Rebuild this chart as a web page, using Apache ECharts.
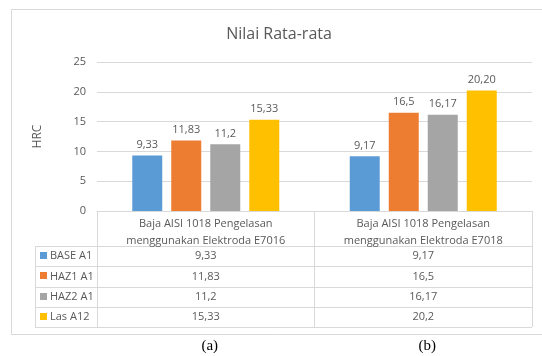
<!DOCTYPE html>
<html>
<head>
<meta charset="utf-8">
<script src="https://cdn.jsdelivr.net/npm/echarts@6/dist/echarts.min.js"></script>
<style>
  html, body { margin: 0; padding: 0; background: #ffffff; }
  #chart { width: 542px; height: 356px; }
</style>
</head>
<body>
<div id="chart"></div>
<script>
// Average hardness (HRC) per zone, for two electrodes
const categories = [
  'Baja AISI 1018 Pengelasan\nmenggunakan Elektroda E7016',
  'Baja AISI 1018 Pengelasan\nmenggunakan Elektroda E7018'
];
const seriesNames = ['BASE A1', 'HAZ1 A1', 'HAZ2 A1', 'Las A12'];
const baseA1 = [9.33, 9.17];
const haz1A1 = [11.83, 16.5];
const haz2A1 = [11.2, 16.17];
const lasA12 = [15.33, 20.2];
const yTicks = [0, 5, 10, 15, 20, 25];
const panelTags = ['(a)', '(b)'];

const seriesValues = [baseA1, haz1A1, haz2A1, lasA12];
const colors = ['#5b9bd5', '#ed7d31', '#a5a5a5', '#ffc000'];
const labelDecimals = [null, null, null, 2];
const FONT = '"Open Sans", "Noto Sans", sans-serif';
const TXT = '#595959';
const LINE = '#d9d9d9';

const comma = (v, d) => (d == null ? String(v) : v.toFixed(d)).replace('.', ',');

const chart = echarts.init(document.getElementById('chart'), null, { renderer: 'canvas' });

chart.setOption({
  animation: false,
  backgroundColor: '#ffffff',
  textStyle: { fontFamily: FONT },
  grid: { left: 97, right: 10, top: 62, bottom: 145 },
  xAxis: {
    type: 'category',
    data: categories,
    axisLine: { lineStyle: { color: LINE } },
    axisTick: { show: true, length: 116, lineStyle: { color: LINE } },
    axisLabel: { color: TXT, fontSize: 11, lineHeight: 17, margin: 4, fontFamily: FONT }
  },
  yAxis: {
    type: 'value',
    min: yTicks[0],
    max: yTicks[yTicks.length - 1],
    interval: yTicks[1] - yTicks[0],
    name: 'HRC',
    nameLocation: 'middle',
    nameGap: 53,
    nameTextStyle: { color: TXT, fontSize: 12, fontFamily: FONT },
    axisLine: { show: false },
    axisTick: { show: false },
    axisLabel: { color: TXT, fontSize: 11, margin: 11, fontFamily: FONT },
    splitLine: { lineStyle: { color: LINE } }
  },
  series: seriesNames.map((name, i) => ({
    name,
    type: 'bar',
    data: seriesValues[i],
    barWidth: 30,
    barGap: '30%',
    itemStyle: { color: colors[i] },
    label: {
      show: true,
      position: 'top',
      distance: 5,
      color: TXT,
      fontSize: 11,
      fontFamily: FONT,
      formatter: p => comma(p.value, labelDecimals[i])
    }
  }))
});

// Data table, title, frame and panel tags laid out from the axis geometry
const y0 = chart.convertToPixel({ yAxisIndex: 0 }, 0);
const xLeft = chart.convertToPixel({ xAxisIndex: 0 }, 0) - (chart.convertToPixel({ xAxisIndex: 0 }, 1) - chart.convertToPixel({ xAxisIndex: 0 }, 0)) / 2;
const xRight = 542 - 10;
const colCenters = categories.map((_, i) => chart.convertToPixel({ xAxisIndex: 0 }, i));
const headerH = 35;
const rowH = 20.3;
const legendLeft = 35;
const rowsTop = y0 + headerH;

const g = [];
// outer frame
g.push({ type: 'rect', shape: { x: 11.5, y: 9.5, width: 560, height: 325 }, style: { fill: null, stroke: LINE, lineWidth: 1 }, z: -1 });
// title
g.push({ type: 'text', x: 279, y: 34, style: { text: 'Nilai Rata-rata', fill: TXT, font: '16px ' + FONT, textAlign: 'center', textVerticalAlign: 'middle' } });
// table horizontal rules
for (let r = 0; r <= seriesNames.length; r++) {
  const y = Math.round(rowsTop + r * rowH) + 0.5;
  g.push({ type: 'line', shape: { x1: legendLeft, y1: y, x2: xRight, y2: y }, style: { stroke: LINE, lineWidth: 1 } });
}
// legend column left edge
g.push({ type: 'line', shape: { x1: legendLeft + 0.5, y1: Math.round(rowsTop) + 0.5, x2: legendLeft + 0.5, y2: Math.round(rowsTop + seriesNames.length * rowH) + 0.5 }, style: { stroke: LINE, lineWidth: 1 } });
// rows: legend key, name, values
seriesNames.forEach((name, r) => {
  const cy = rowsTop + r * rowH + rowH / 2;
  g.push({ type: 'rect', shape: { x: legendLeft + 5, y: Math.round(cy - 4), width: 7, height: 7 }, style: { fill: colors[r] } });
  g.push({ type: 'text', x: legendLeft + 15, y: cy, style: { text: name, fill: TXT, font: '11px ' + FONT, textAlign: 'left', textVerticalAlign: 'middle' } });
  seriesValues[r].forEach((v, c) => {
    g.push({ type: 'text', x: colCenters[c], y: cy, style: { text: comma(v), fill: TXT, font: '11px ' + FONT, textAlign: 'center', textVerticalAlign: 'middle' } });
  });
});
// panel tags under the frame
panelTags.forEach((t, c) => {
  g.push({ type: 'text', x: colCenters[c] + 4, y: 346, style: { text: t, fill: '#000000', font: '15px "Liberation Serif", "DejaVu Serif", serif', textAlign: 'center', textVerticalAlign: 'middle' } });
});

chart.setOption({ graphic: g });
</script>
</body>
</html>
